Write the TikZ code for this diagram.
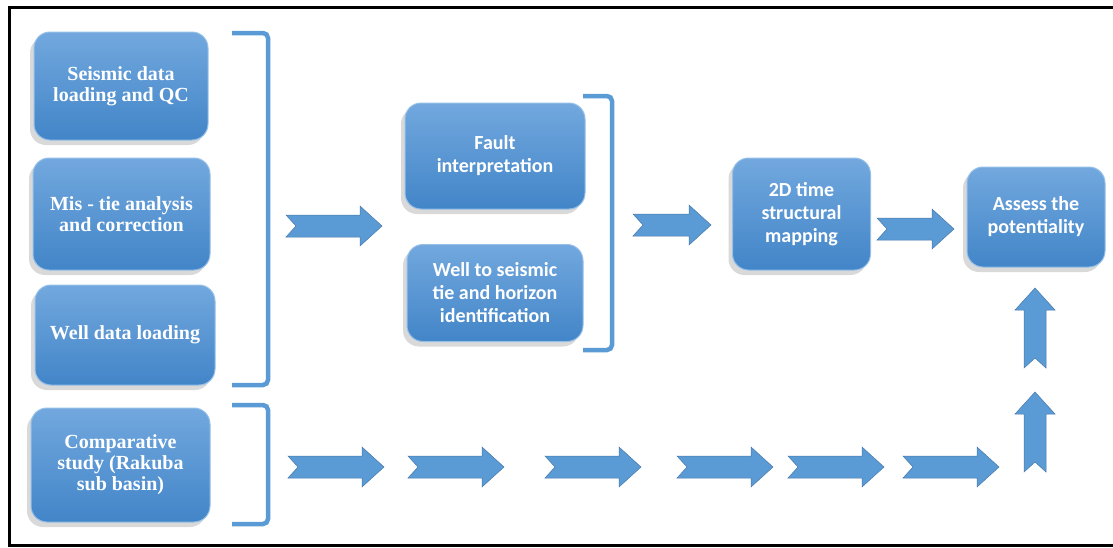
\documentclass[tikz,border=0pt]{standalone}
\usepackage{fontspec}
\setmainfont{Liberation Serif}
\newfontfamily\carlito{Carlito}
\usetikzlibrary{shadows, positioning}
\definecolor{boxtop}{RGB}{114,168,222}
\definecolor{boxbot}{RGB}{66,133,200}
\definecolor{boxedge}{RGB}{150,192,232}
\definecolor{arrfill}{RGB}{91,155,213}
\definecolor{arredge}{RGB}{70,120,170}

\begin{document}
\begin{tikzpicture}[x=1pt, y=-1pt,
    task/.style={rounded corners=16pt, top color=boxtop, bottom color=boxbot, draw=boxedge, line width=1pt, text=white, align=center, inner sep=2pt, drop shadow={shadow xshift=-4pt, shadow yshift=-5pt, opacity=0.3}},
    sbox/.style={task, font=\bfseries\fontsize{20}{21}\selectfont},
    cbox/.style={task, font=\carlito\bfseries\fontsize{20}{23}\selectfont},
    bracket/.style={draw=arrfill, line width=4.5pt, rounded corners=5pt},
    pics/flowarr/.style={code={
      \filldraw[fill=arrfill, draw=arredge, line width=0.5pt]
        (0,-11) -- (#1-22,-11) -- (#1-22,-20) -- (#1,0) -- (#1-22,20) -- (#1-22,11) -- (0,11) -- (10,0) -- cycle;
    }}]

\useasboundingbox (0,0) rectangle (1113,547);

% frame
\draw[line width=3pt] (1113,7) -- (9,7) -- (9,545) -- (1113,545);

% Left column (data preparation)
\node[sbox, minimum width=174pt, minimum height=108pt] (seis) at (121,86) {Seismic data\\loading and QC};
\node[sbox, minimum width=177pt, minimum height=112pt] (mistie) at (121.5,214) {Mis - tie analysis\\and correction};
\node[sbox, minimum width=180pt, minimum height=100pt] (wellload) at (125,335) {Well data loading};
\node[sbox, minimum width=179pt, minimum height=114pt] (compare) at (120.5,465) {Comparative\\study (Rakuba\\sub basin)};

% Interpretation column
\node[cbox, minimum width=180pt, minimum height=106pt] (fault) at (495,156) {Fault\\interpretation};
\node[cbox, minimum width=176pt, minimum height=97pt] (welltie) at (495,293) {Well to seismic\\tie and horizon\\identification};

% Mapping and result
\node[cbox, minimum width=138pt, minimum height=112pt] (map2d) at (801.5,214) {2D time\\structural\\mapping};
\node[cbox, minimum width=138pt, minimum height=100pt] (assess) at (1036,217) {Assess the\\potentiality};

% Brackets
\draw[bracket] (232,33) -- (268,33) -- (268,385) -- (232,385);
\draw[bracket] (583,96) -- (612,96) -- (612,350) -- (583,350);
\draw[bracket] (232,405) -- (268,405) -- (268,524) -- (232,524);

% Block arrows, upper row
\pic at (286,226) {flowarr=96};
\pic at (633,225) {flowarr=78};
\pic at (877,229) {flowarr=77};

% Block arrows, lower row
\foreach \xa in {288,408,545,677,788,903} {
    \pic at (\xa,467) {flowarr=96};
}

% Block arrows up to the result
\pic[rotate=90] at (1035,368) {flowarr=80};
\pic[rotate=90] at (1035,472) {flowarr=80};

\end{tikzpicture}
\end{document}
